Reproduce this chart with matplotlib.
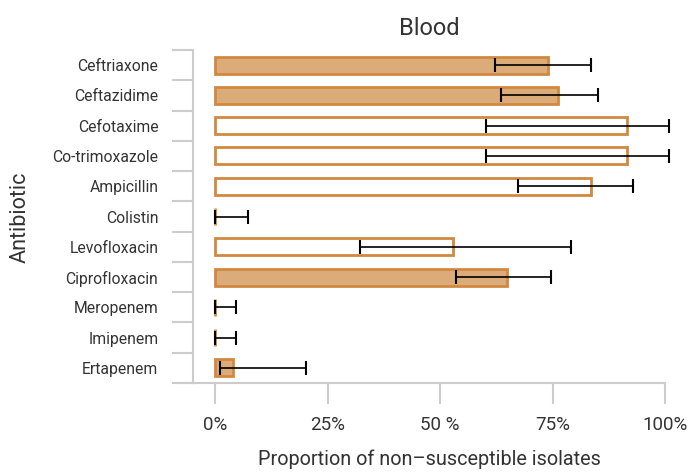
import matplotlib
matplotlib.use("Agg")
import matplotlib.pyplot as plt
from matplotlib.lines import Line2D
import numpy as np

# 数据
antibiotics = ["Ceftriaxone", "Ceftazidime", "Cefotaxime", "Co-trimoxazole", "Ampicillin",
               "Colistin", "Levofloxacin", "Ciprofloxacin", "Meropenem", "Imipenem", "Ertapenem"]
proportion = [0.74, 0.762, 0.915, 0.915, 0.836, 0.0, 0.529, 0.649, 0.0, 0.0, 0.04]
ci_low = [0.622, 0.635, 0.602, 0.602, 0.673, 0.0, 0.322, 0.536, 0.0, 0.0, 0.011]
ci_high = [0.836, 0.851, 1.008, 1.008, 0.929, 0.073, 0.791, 0.747, 0.045, 0.045, 0.202]
filled = [True, True, False, False, False, True, False, True, True, True, True]
xticks = [0, 0.25, 0.5, 0.75, 1.0]
xtick_labels = ["0%", "25%", "50 %", "75%", "100%"]

plt.rcParams['font.family'] = ['Roboto', 'DejaVu Sans']
text_col = "#333333"
grid_col = "#cccccc"
fill_col = "#dcab7a"
edge_col = "#d0893f"

fig = plt.figure(figsize=(7, 4.73), dpi=100)
ax = fig.add_axes([193 / 700, 1 - 383 / 473, (665 - 193) / 700, (383 - 50) / 473])

y = np.arange(len(antibiotics))
for i in range(len(antibiotics)):
    ax.barh(y[i], proportion[i], height=0.56, left=0,
            color=fill_col if filled[i] else "white",
            edgecolor=edge_col, linewidth=2)
err = [np.array(proportion) - np.array(ci_low), np.array(ci_high) - np.array(proportion)]
ax.errorbar(proportion, y, xerr=err, fmt="none", ecolor="black", elinewidth=1.2,
            capsize=5, capthick=1.5, clip_on=False)

ax.set_xlim(-0.05, 1.0)
ax.set_ylim(len(antibiotics) - 0.5, -0.5)

ax.set_yticks(y)
ax.set_yticklabels(antibiotics, fontsize=11.3, color=text_col)
ax.tick_params(axis="y", which="major", length=0, pad=25)
ax.set_yticks(np.arange(-0.5, len(antibiotics)), minor=True)
ax.tick_params(axis="y", which="minor", length=15, color=grid_col, width=1.5)

ax.set_xticks(xticks)
ax.set_xticklabels(xtick_labels, fontsize=13.5, color=text_col)
ax.tick_params(axis="x", length=15, color=grid_col, width=1.5, pad=9)

for s in ["top", "right"]:
    ax.spines[s].set_visible(False)
for s in ["left", "bottom"]:
    ax.spines[s].set_color(grid_col)
    ax.spines[s].set_linewidth(1.5)
# x轴线向左延伸
ax.add_line(Line2D([-15 / 472, 0], [0, 0], transform=ax.transAxes, color=grid_col,
                   linewidth=1.5, clip_on=False))

ax.set_title("Blood", fontsize=17, color=text_col, pad=11)
ax.set_xlabel("Proportion of non\u2013susceptible isolates", fontsize=14.3, color=text_col, labelpad=11)
fig.text(20 / 700, 1 - 217 / 473, "Antibiotic", rotation=90, fontsize=15.5, color=text_col,
         ha="center", va="center")

fig.savefig("out.png", dpi=100)
